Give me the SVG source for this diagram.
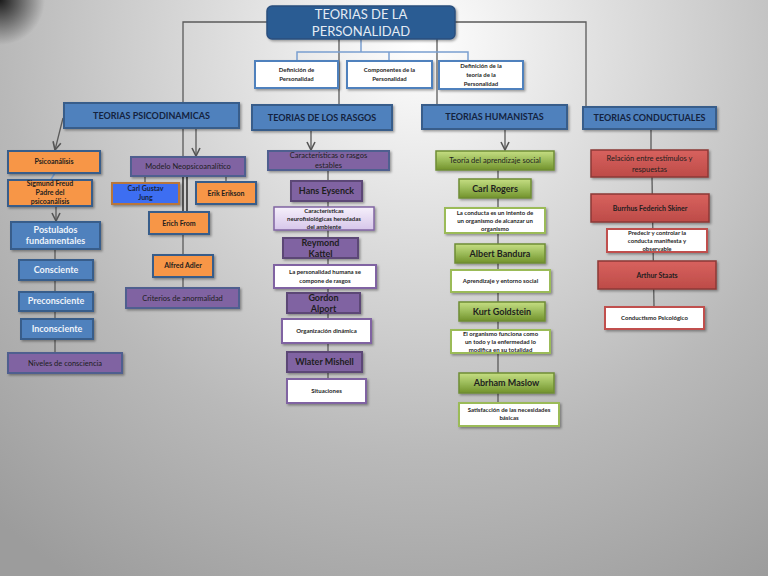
<svg xmlns="http://www.w3.org/2000/svg" width="768" height="576" viewBox="0 0 768 576">
<defs>
  <radialGradient id="bg" cx="420" cy="40" r="640" gradientUnits="userSpaceOnUse">
    <stop offset="0" stop-color="#ffffff"/>
    <stop offset="0.3" stop-color="#dedede"/>
    <stop offset="0.65" stop-color="#b9b9b9"/>
    <stop offset="1" stop-color="#9c9c9c"/>
  </radialGradient>
  <radialGradient id="corner" cx="0" cy="0" r="45" gradientUnits="userSpaceOnUse">
    <stop offset="0" stop-color="#000" stop-opacity="0.85"/>
    <stop offset="1" stop-color="#000" stop-opacity="0"/>
  </radialGradient>
  <linearGradient id="green" x1="0" y1="0" x2="0" y2="1">
    <stop offset="0" stop-color="#c6de83"/>
    <stop offset="0.5" stop-color="#9bbb59"/>
    <stop offset="1" stop-color="#72922b"/>
  </linearGradient>
  <linearGradient id="red" x1="0" y1="0" x2="0" y2="1">
    <stop offset="0" stop-color="#d8625e"/>
    <stop offset="1" stop-color="#bd4b48"/>
  </linearGradient>
  <linearGradient id="lav" x1="0" y1="0" x2="0" y2="1">
    <stop offset="0" stop-color="#f6f0fb"/>
    <stop offset="1" stop-color="#d6c6ea"/>
  </linearGradient>
  <filter id="sh" x="-10%" y="-20%" width="130%" height="160%">
    <feDropShadow dx="1.5" dy="1.5" stdDeviation="1" flood-color="#000" flood-opacity="0.35"/>
  </filter>
  <marker id="arr" viewBox="0 0 10 10" refX="9" refY="5" markerWidth="10" markerHeight="10" markerUnits="userSpaceOnUse" orient="auto">
    <path d="M1,1 L9,5 L1,9" fill="none" stroke="#555" stroke-width="1.6"/>
  </marker>
  <style>
    text { font-family: Lato, "Liberation Sans", sans-serif; text-anchor: middle; fill: #1e1e1e; }
    .b { font-weight: bold; }
    .hdr { fill: #4f81bd; stroke: #385d8a; stroke-width: 2; }
    .hdrt { font-size: 9px; fill: #14233f; font-weight: bold; }
    .def { fill: #ffffff; stroke: #4f81bd; stroke-width: 2; }
    .org { fill: #f79646; stroke: #385d8a; stroke-width: 2; }
    .pur { fill: #8064a2; stroke: #4f5f8f; stroke-width: 2; }
    .purr { fill: #8064a2; stroke: #5c4776; stroke-width: 2; }
    .wpur { fill: #ffffff; stroke: #8064a2; stroke-width: 2; }
    .lav { fill: url(#lav); stroke: #8064a2; stroke-width: 1.5; }
    .blu { fill: #4f81bd; stroke: #385d8a; stroke-width: 2; }
    .grn { fill: url(#green); stroke: #6f8d34; stroke-width: 1.5; }
    .wgrn { fill: #ffffff; stroke: #9bbb59; stroke-width: 2; }
    .red { fill: url(#red); stroke: #8c3836; stroke-width: 1.5; }
    .wred { fill: #ffffff; stroke: #c0504d; stroke-width: 2; }
    .s6 { font-size: 6px; font-weight: bold; }
    .s7 { font-size: 7px; font-weight: bold; }
    .n8 { font-size: 7.5px; }
    .nm { font-size: 9px; font-weight: bold; }
    .wt { fill: #eef3fa; font-size: 9px; font-weight: bold; }
    .c { fill: none; stroke: #5a5a5a; stroke-width: 1.3; }
    .k { fill: none; stroke: #111; stroke-width: 1.3; }
    .lb { fill: none; stroke: #7a9fd0; stroke-width: 1.5; }
  </style>
</defs>

<rect width="768" height="576" fill="url(#bg)"/>
<rect width="80" height="80" fill="url(#corner)"/>

<g id="connectors">
  <polyline class="c" points="183,157 183,22 586,22 586,107" stroke="#55553f"/>
  <line class="c" x1="339" y1="39" x2="339" y2="105"/>
  <line class="c" x1="437" y1="39" x2="437" y2="105"/>
  <polyline class="lb" points="361,39 361,52"/>
  <polyline class="lb" points="297,60 297,52 468,52 468,60"/>
  <line class="lb" x1="389" y1="52" x2="389" y2="60"/>
  <line class="c" x1="63" y1="118" x2="55" y2="150" marker-end="url(#arr)"/>
  <line class="c" x1="196" y1="128" x2="196" y2="156" marker-end="url(#arr)"/>
  <line class="lb" x1="55" y1="173" x2="50" y2="181"/>
  <line class="c" x1="56" y1="206" x2="56" y2="221" marker-end="url(#arr)"/>
  <line class="c" x1="55" y1="249" x2="55" y2="353"/>
  <line class="c" x1="145" y1="176" x2="145" y2="183"/>
  <line class="c" x1="226" y1="176" x2="226" y2="182"/>
  <line class="k" x1="183" y1="176" x2="183" y2="212"/>
  <line class="k" x1="187" y1="176" x2="187" y2="212"/>
  <line class="c" x1="183" y1="234" x2="183" y2="288"/>
  <line class="c" x1="311" y1="130" x2="311" y2="150" marker-end="url(#arr)"/>
  <line class="c" x1="328" y1="170" x2="328" y2="379"/>
  <line class="c" x1="505" y1="129" x2="505" y2="150" marker-end="url(#arr)"/>
  <line class="c" x1="498" y1="170" x2="498" y2="403" stroke="#333"/>
  <line class="c" x1="651" y1="129" x2="651" y2="150"/>
  <line class="c" x1="652" y1="177" x2="654" y2="307"/>
</g>

<g id="title">
  <rect x="267" y="6" width="188" height="33" rx="5" fill="#2b5b93" stroke="#2a4f7e" stroke-width="1.5" filter="url(#sh)"/>
  <text x="361" y="19" font-size="13" style="fill:#e4ebf4">TEORIAS DE LA</text>
  <text x="361" y="36" font-size="13" style="fill:#e4ebf4">PERSONALIDAD</text>
</g>

<g id="def1"><rect class="def" x="255" y="61" width="83" height="27" filter="url(#sh)"/>
  <text class="s6" x="296.5" y="72">Definición de</text><text class="s6" x="296.5" y="81">Personalidad</text></g>
<g id="def2"><rect class="def" x="347" y="61" width="85" height="27" filter="url(#sh)"/>
  <text class="s6" x="389.5" y="72">Componentes de la</text><text class="s6" x="389.5" y="81">Personalidad</text></g>
<g id="def3"><rect class="def" x="439" y="61" width="84" height="28" filter="url(#sh)"/>
  <text class="s6" x="481" y="68">Definición de la</text><text class="s6" x="481" y="77">teoría de la</text><text class="s6" x="481" y="86">Personalidad</text></g>

<g id="psicodinamicas"><rect class="hdr" x="64" y="103" width="175" height="25" filter="url(#sh)"/>
  <text class="hdrt" x="151.5" y="119" font-size="8">TEORIAS PSICODINAMICAS</text></g>
<g id="rasgos"><rect class="hdr" x="252" y="105" width="140" height="25" filter="url(#sh)"/>
  <text class="hdrt" x="322" y="121">TEORIAS DE LOS RASGOS</text></g>
<g id="humanistas"><rect class="hdr" x="422" y="105" width="145" height="24" filter="url(#sh)"/>
  <text class="hdrt" x="494.5" y="120">TEORIAS HUMANISTAS</text></g>
<g id="conductuales"><rect class="hdr" x="583" y="107" width="133" height="22" filter="url(#sh)"/>
  <text class="hdrt" x="649.5" y="121">TEORIAS CONDUCTUALES</text></g>

<g id="psicoanalisis"><rect class="org" x="8" y="151" width="92" height="22" filter="url(#sh)"/>
  <text class="s7" x="54" y="164">Psicoanálisis</text></g>
<g id="freud"><rect class="org" x="8" y="180" width="84" height="26" filter="url(#sh)"/>
  <text class="s7" x="50" y="186">Sigmund Freud</text><text class="s7" x="50" y="195">Padre del</text><text class="s7" x="50" y="204">psicoanálisis</text></g>
<g id="postulados"><rect class="blu" x="11" y="222" width="89" height="27" filter="url(#sh)"/>
  <text class="wt" x="55.5" y="233">Postulados</text><text class="wt" x="55.5" y="244">fundamentales</text></g>
<g id="consciente"><rect class="blu" x="19" y="260" width="74" height="20" filter="url(#sh)"/>
  <text class="wt" x="56" y="273">Consciente</text></g>
<g id="preconsciente"><rect class="blu" x="19" y="292" width="74" height="19" filter="url(#sh)"/>
  <text class="wt" x="56" y="304">Preconsciente</text></g>
<g id="inconsciente"><rect class="blu" x="21" y="319" width="72" height="20" filter="url(#sh)"/>
  <text class="wt" x="57" y="332">Inconsciente</text></g>
<g id="niveles"><rect class="pur" x="8" y="353" width="114" height="20" filter="url(#sh)"/>
  <text class="n8" x="65" y="366">Niveles de consciencia</text></g>

<g id="modelo"><rect class="pur" x="131" y="157" width="114" height="19" filter="url(#sh)"/>
  <text class="n8" x="188" y="169">Modelo Neopsicoanalítico</text></g>
<g id="jung"><rect x="112" y="183" width="67" height="21" fill="#3d6ef2" stroke="#b8763a" stroke-width="2" filter="url(#sh)"/>
  <text class="s7" x="145.5" y="191" style="fill:#14233f">Carl Gustav</text><text class="s7" x="145.5" y="200" style="fill:#14233f">Jung</text></g>
<g id="erikson"><rect class="org" x="196" y="182" width="60" height="22" filter="url(#sh)"/>
  <text class="s7" x="226" y="196">Erik Erikson</text></g>
<g id="from"><rect class="org" x="149" y="212" width="60" height="22" filter="url(#sh)"/>
  <text class="s7" x="179" y="226">Erich From</text></g>
<g id="adler"><rect class="org" x="153" y="255" width="60" height="22" filter="url(#sh)"/>
  <text class="s7" x="183" y="268">Alfred Adler</text></g>
<g id="criterios"><rect class="pur" x="126" y="288" width="113" height="20" filter="url(#sh)"/>
  <text class="n8" x="182.5" y="301">Criterios de anormalidad</text></g>

<g id="caracteristicas"><rect class="pur" x="268" y="151" width="121" height="19" filter="url(#sh)"/>
  <text class="n8" x="328.5" y="158">Características o rasgos</text><text class="n8" x="328.5" y="168">estables</text></g>
<g id="eysenck"><rect class="purr" x="291" y="181" width="71" height="20" filter="url(#sh)"/>
  <text class="nm" x="326.5" y="194">Hans Eysenck</text></g>
<g id="neuro"><rect class="lav" x="274" y="207" width="100" height="23" filter="url(#sh)"/>
  <text class="s6" x="324" y="213">Características</text><text class="s6" x="324" y="221">neurofisiológicas heredadas</text><text class="s6" x="324" y="229">del ambiente</text></g>
<g id="kattel"><rect class="purr" x="283" y="238" width="75" height="20" filter="url(#sh)"/>
  <text class="nm" x="320.5" y="246">Reymond</text><text class="nm" x="320.5" y="257">Kattel</text></g>
<g id="compone"><rect class="wpur" x="274" y="265" width="102" height="23" filter="url(#sh)"/>
  <text class="s6" x="325" y="274">La personalidad humana se</text><text class="s6" x="325" y="283">compone de rasgos</text></g>
<g id="alport"><rect class="purr" x="287" y="293" width="73" height="20" filter="url(#sh)"/>
  <text class="nm" x="323.5" y="301">Gordon</text><text class="nm" x="323.5" y="312">Alport</text></g>
<g id="organizacion"><rect class="wpur" x="282" y="319" width="89" height="24" filter="url(#sh)"/>
  <text class="s6" x="326.5" y="333">Organización dinámica</text></g>
<g id="mishell"><rect class="purr" x="287" y="352" width="75" height="20" filter="url(#sh)"/>
  <text class="nm" x="324.5" y="365">Wlater Mishell</text></g>
<g id="situaciones"><rect class="wpur" x="287" y="379" width="79" height="24" filter="url(#sh)"/>
  <text class="s6" x="326.5" y="393">Situaciones</text></g>

<g id="aprendizaje"><rect class="grn" x="436" y="151" width="118" height="19" filter="url(#sh)"/>
  <text class="n8" x="495" y="163">Teoría del aprendizaje social</text></g>
<g id="rogers"><rect class="grn" x="459" y="179" width="72" height="19" filter="url(#sh)"/>
  <text class="nm" x="495" y="192">Carl Rogers</text></g>
<g id="conducta"><rect class="wgrn" x="445" y="208" width="100" height="25" filter="url(#sh)"/>
  <text class="s6" x="495" y="215">La conducta es un intento de</text><text class="s6" x="495" y="223">un organismo de alcanzar un</text><text class="s6" x="495" y="231">organismo</text></g>
<g id="bandura"><rect class="grn" x="455" y="244" width="90" height="19" filter="url(#sh)"/>
  <text class="nm" x="500" y="257">Albert Bandura</text></g>
<g id="entorno"><rect class="wgrn" x="451" y="270" width="99" height="22" filter="url(#sh)"/>
  <text class="s6" x="500.5" y="283">Aprendizaje y entorno social</text></g>
<g id="goldstein"><rect class="grn" x="459" y="302" width="86" height="19" filter="url(#sh)"/>
  <text class="nm" x="502" y="315">Kurt Goldstein</text></g>
<g id="organismo"><rect class="wgrn" x="451" y="330" width="99" height="23" filter="url(#sh)"/>
  <text class="s6" x="500.5" y="336">El organismo funciona como</text><text class="s6" x="500.5" y="344">un todo y la enfermedad lo</text><text class="s6" x="500.5" y="352">modifica en su totalidad</text></g>
<g id="maslow"><rect class="grn" x="459" y="373" width="95" height="20" filter="url(#sh)"/>
  <text class="nm" x="506.5" y="386">Abrham Maslow</text></g>
<g id="satisfaccion"><rect class="wgrn" x="459" y="403" width="100" height="23" filter="url(#sh)"/>
  <text class="s6" x="509" y="412">Satisfacción de las necesidades</text><text class="s6" x="509" y="420">básicas</text></g>

<g id="relacion"><rect class="red" x="591" y="150" width="117" height="27" filter="url(#sh)"/>
  <text class="n8" x="649.5" y="161">Relación entre estímulos y</text><text class="n8" x="649.5" y="172">respuestas</text></g>
<g id="skiner"><rect class="red" x="591" y="194" width="118" height="28" filter="url(#sh)"/>
  <text class="s7" x="650" y="211">Burrhus Federich Skiner</text></g>
<g id="predecir"><rect class="wred" x="607" y="229" width="100" height="23" filter="url(#sh)"/>
  <text class="s6" x="657" y="235">Predecir y controlar la</text><text class="s6" x="657" y="243">conducta manifiesta y</text><text class="s6" x="657" y="251">observable</text></g>
<g id="staats"><rect class="red" x="598" y="261" width="118" height="28" filter="url(#sh)"/>
  <text class="s7" x="657" y="278">Arthur  Staats</text></g>
<g id="conductismo"><rect class="wred" x="605" y="307" width="99" height="22" filter="url(#sh)"/>
  <text class="s6" x="654.5" y="320">Conductismo Psicológico</text></g>
</svg>
